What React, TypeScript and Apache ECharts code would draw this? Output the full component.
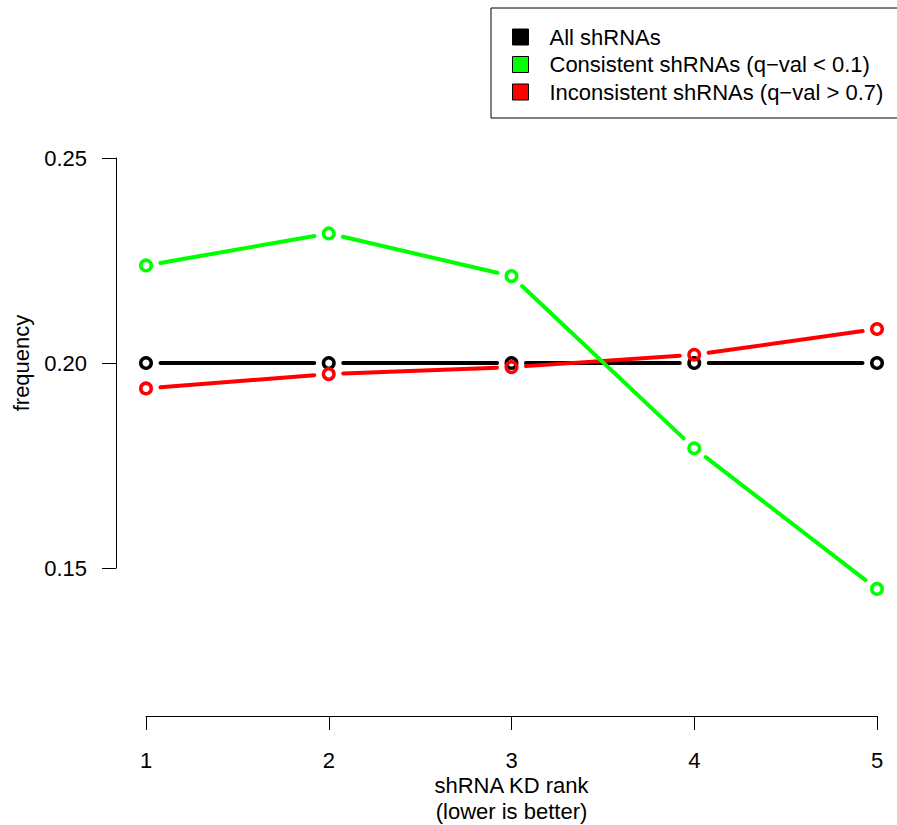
import React, { useEffect, useRef } from "react";
import * as echarts from "echarts";

const xRanks = [1, 2, 3, 4, 5];
const xTicks = [1, 2, 3, 4, 5];
const yTicks = [0.15, 0.2, 0.25];
const allValues = [0.2, 0.2, 0.2, 0.2, 0.2];
const consistentValues = [0.2238, 0.2316, 0.2212, 0.1792, 0.1449];
const inconsistentValues = [0.1938, 0.1973, 0.199, 0.202, 0.2083];

const seriesNames = [
  "All shRNAs",
  "Consistent shRNAs (q\u2212val < 0.1)",
  "Inconsistent shRNAs (q\u2212val > 0.7)",
];
const seriesColors = ["#000000", "#00ff00", "#ff0000"];

const FONT = "Liberation Sans, Arial, Helvetica, sans-serif";

function segments(vals: number[]) {
  return vals.slice(0, -1).map((v, i) => [xRanks[i], v, xRanks[i + 1], vals[i + 1]]);
}

function lineSeries(name: string, color: string, vals: number[]) {
  return {
    type: "custom",
    name,
    silent: true,
    clip: false,
    encode: { x: [0, 2], y: [1, 3] },
    data: segments(vals),
    renderItem: (_params: any, api: any) => {
      const a = api.coord([api.value(0), api.value(1)]);
      const b = api.coord([api.value(2), api.value(3)]);
      const dx = b[0] - a[0];
      const dy = b[1] - a[1];
      const len = Math.hypot(dx, dy);
      const g = 14.5;
      if (len <= 2 * g) return null;
      const ux = dx / len;
      const uy = dy / len;
      return {
        type: "line",
        shape: {
          x1: a[0] + ux * g,
          y1: a[1] + uy * g,
          x2: b[0] - ux * g,
          y2: b[1] - uy * g,
        },
        style: { stroke: color, lineWidth: 4, lineCap: "round" },
      };
    },
  };
}

function pointSeries(name: string, color: string, vals: number[]) {
  return {
    type: "scatter",
    name,
    silent: true,
    clip: false,
    symbol: "circle",
    symbolSize: 10.5,
    itemStyle: {
      color: "rgba(0,0,0,0)",
      borderColor: color,
      borderWidth: 3.5,
      opacity: 1,
    },
    data: vals.map((v, i) => [xRanks[i], v]),
  };
}

export default function App() {
  const ref = useRef<HTMLDivElement>(null);
  useEffect(() => {
    if (!ref.current) return;
    const chart = echarts.init(ref.current, null, { renderer: "svg" });
    const valuesList = [allValues, consistentValues, inconsistentValues];
    const drawOrder = [0, 2, 1];
    const series: any[] = [];
    drawOrder.forEach((k) => {
      series.push(lineSeries(seriesNames[k], seriesColors[k], valuesList[k]));
      series.push(pointSeries(seriesNames[k], seriesColors[k], valuesList[k]));
    });
    chart.setOption({
      animation: false,
      backgroundColor: "#ffffff",
      textStyle: { fontFamily: FONT },
      grid: { left: 146, right: 20, top: 158, height: 410, containLabel: false },
      legend: {
        orient: "vertical",
        left: 491,
        top: 8,
        padding: [18, 40, 15, 21],
        borderColor: "#000",
        borderWidth: 1,
        borderRadius: 0,
        itemWidth: 16,
        itemHeight: 16,
        itemGap: 5.5,
        icon: "rect",
        selectedMode: false,
        textStyle: {
          fontFamily: FONT,
          fontSize: 22,
          lineHeight: 22,
          color: "#000",
          padding: [0, 0, 0, 16],
        },
        data: seriesNames.map((n, i) => ({
          name: n,
          itemStyle: { color: seriesColors[i], borderColor: "#000", borderWidth: 1 },
        })),
      },
      xAxis: {
        type: "value",
        min: xTicks[0],
        max: xTicks[xTicks.length - 1],
        interval: 1,
        offset: 148,
        name: "shRNA KD rank\n(lower is better)",
        nameLocation: "middle",
        nameGap: 56,
        nameTextStyle: { fontFamily: FONT, fontSize: 22, lineHeight: 26, color: "#000" },
        axisLine: { show: true, lineStyle: { color: "#000", width: 1 } },
        axisTick: { show: true, length: 14, lineStyle: { color: "#000", width: 1 } },
        axisLabel: { margin: 33, fontFamily: FONT, fontSize: 22, color: "#000" },
        splitLine: { show: false },
      },
      yAxis: {
        type: "value",
        min: yTicks[0],
        max: yTicks[yTicks.length - 1],
        interval: 0.05,
        offset: 30,
        name: "frequency",
        nameLocation: "middle",
        nameRotate: 90,
        nameGap: 84,
        nameTextStyle: { fontFamily: FONT, fontSize: 22, color: "#000" },
        axisLine: { show: true, lineStyle: { color: "#000", width: 1 } },
        axisTick: { show: true, length: 14, lineStyle: { color: "#000", width: 1 } },
        axisLabel: {
          margin: 29,
          fontFamily: FONT,
          fontSize: 22,
          color: "#000",
          formatter: (v: number) => v.toFixed(2),
        },
        splitLine: { show: false },
      },
      series,
    });
    return () => chart.dispose();
  }, []);
  return (
    <div
      ref={ref}
      style={{ position: "absolute", left: 0, top: 0, width: 897, height: 825 }}
    />
  );
}
